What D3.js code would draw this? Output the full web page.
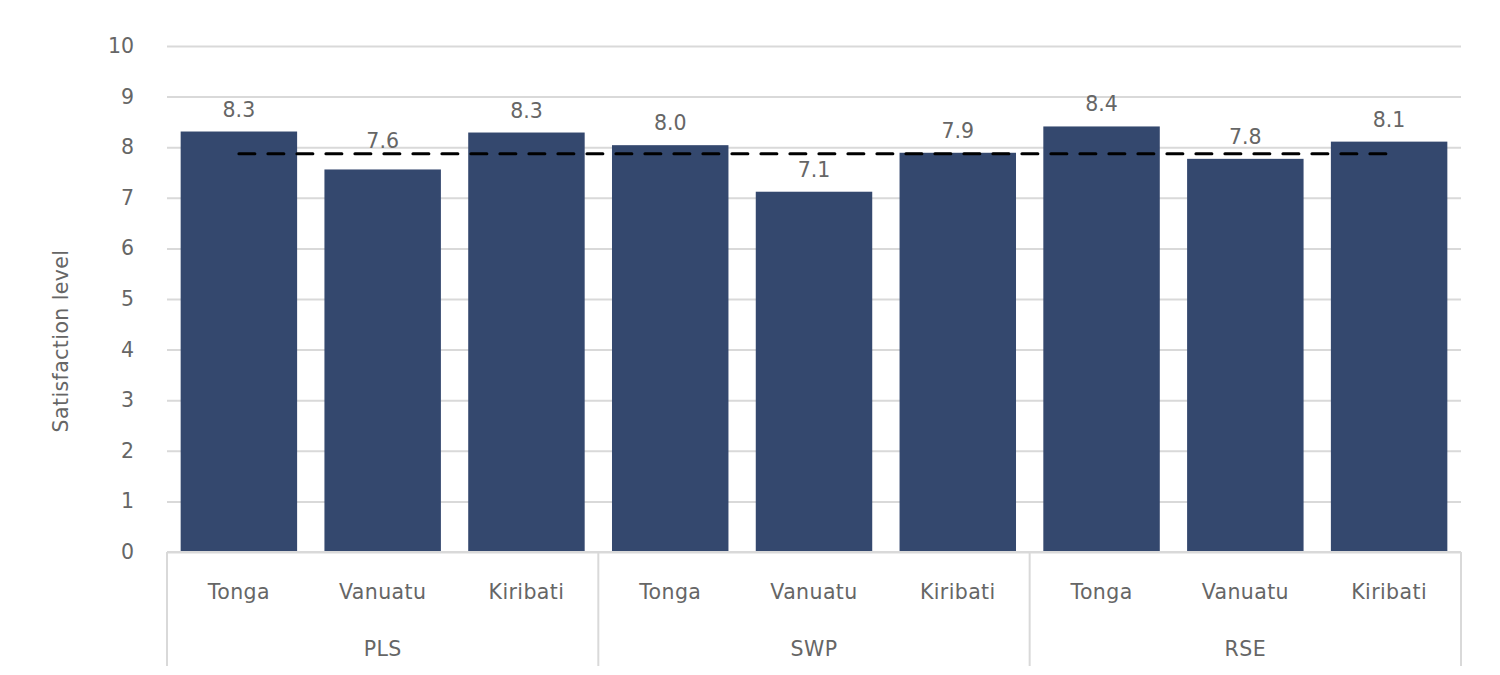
<!DOCTYPE html>
<html>
<head>
<meta charset="utf-8">
<script src="https://cdn.jsdelivr.net/npm/d3@7"></script>
<style>
  html, body { margin: 0; padding: 0; background: #fff; }
  svg { display: block; }
  text { font-family: "DejaVu Sans", "Noto Sans", sans-serif; fill: #666666; }
</style>
</head>
<body>
<svg id="chart" width="1500" height="675"></svg>
<script>
// ---- data ----
const countries = ["Tonga", "Vanuatu", "Kiribati", "Tonga", "Vanuatu", "Kiribati", "Tonga", "Vanuatu", "Kiribati"];
const groups = ["PLS", "PLS", "PLS", "SWP", "SWP", "SWP", "RSE", "RSE", "RSE"];
const groupNames = ["PLS", "SWP", "RSE"];
const values = [8.31, 7.56, 8.29, 8.04, 7.12, 7.89, 8.41, 7.77, 8.11];
const averageValue = 7.87;
const yTicks = [0, 1, 2, 3, 4, 5, 6, 7, 8, 9, 10];
const yTitle = "Satisfaction level";

// ---- layout ----
const svg = d3.select("#chart");
const mLeft = 167, mRight = 1461, mTop = 46, mBottom = 552;
const fs = 20.5;
const keys = values.map((d, i) => i);

const x = d3.scaleBand().domain(keys).range([mLeft, mRight]).paddingInner(0.19).paddingOuter(0.095);
const y = d3.scaleLinear().domain([0, 10]).range([mBottom, mTop]);

// gridlines
const yAxis = d3.axisLeft(y).tickValues(yTicks).tickSize(-(mRight - mLeft)).tickFormat(d3.format("d"));
const gy = svg.append("g").attr("transform", `translate(${mLeft},0)`).call(yAxis);
gy.select(".domain").remove();
gy.selectAll(".tick line").attr("stroke", "#d9d9d9").attr("stroke-width", 2);
gy.selectAll(".tick text").attr("x", -33).attr("font-size", fs).attr("fill", "#666666")
  .style("font-family", '"DejaVu Sans", sans-serif');

// bars
svg.append("g").selectAll("rect").data(values).join("rect")
  .attr("x", (d, i) => x(i))
  .attr("width", x.bandwidth())
  .attr("y", d => y(d))
  .attr("height", d => y(0) - y(d))
  .attr("fill", "#34486e");

// value labels (nudged above the average line when they would sit on it)
const fmt = d3.format(".1f");
const lineY = y(averageValue);
svg.append("g").selectAll("text").data(values).join("text")
  .attr("x", (d, i) => x(i) + x.bandwidth() / 2)
  .attr("y", d => {
    let b = y(d) - 15;
    if (b > lineY - 4 && b - 15 < lineY + 2) b = lineY - 6;
    return b;
  })
  .attr("text-anchor", "middle")
  .attr("font-size", fs)
  .text(d => fmt(d));

// average dashed line (from first bar centre to last bar centre)
svg.append("line")
  .attr("x1", x(keys[0]) + x.bandwidth() / 2)
  .attr("x2", x(keys[keys.length - 1]) + x.bandwidth() / 2)
  .attr("y1", lineY)
  .attr("y2", lineY)
  .attr("stroke", "#000")
  .attr("stroke-width", 3)
  .attr("stroke-dasharray", "16,13")
  .attr("stroke-linecap", "round");

// x axis baseline
svg.append("line").attr("x1", mLeft).attr("x2", mRight).attr("y1", mBottom).attr("y2", mBottom)
  .attr("stroke", "#d9d9d9").attr("stroke-width", 2);

// group separators
const groupBounds = [];
groupNames.forEach(g => {
  const idx = keys.filter(i => groups[i] === g);
  groupBounds.push({ name: g, x0: x(idx[0]) - x.step() * x.paddingInner() / 2, x1: x(idx[idx.length - 1]) + x.bandwidth() + x.step() * x.paddingInner() / 2 });
});
const sepXs = [mLeft].concat(groupBounds.map(b => b.x1));
sepXs[sepXs.length - 1] = mRight;
svg.append("g").selectAll("line").data(sepXs).join("line")
  .attr("x1", d => d).attr("x2", d => d)
  .attr("y1", mBottom).attr("y2", 666)
  .attr("stroke", "#d9d9d9").attr("stroke-width", 2);

// category labels
svg.append("g").selectAll("text").data(countries).join("text")
  .attr("x", (d, i) => x(i) + x.bandwidth() / 2)
  .attr("y", 599)
  .attr("text-anchor", "middle")
  .attr("font-size", fs)
  .attr("letter-spacing", 0.4)
  .text(d => d);

// group labels
svg.append("g").selectAll("text").data(groupBounds).join("text")
  .attr("x", d => (d.x0 + d.x1) / 2)
  .attr("y", 656)
  .attr("text-anchor", "middle")
  .attr("font-size", fs)
  .attr("letter-spacing", 0.4)
  .text(d => d.name);

// y title
svg.append("text")
  .attr("transform", `translate(68,${(mTop + mBottom) / 2 + 42}) rotate(-90)`)
  .attr("text-anchor", "middle")
  .attr("font-size", fs)
  .attr("letter-spacing", 0.4)
  .text(yTitle);
</script>
</body>
</html>
